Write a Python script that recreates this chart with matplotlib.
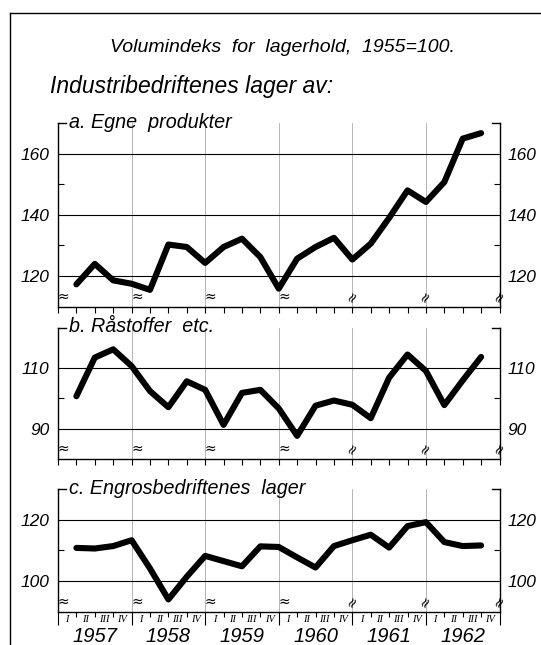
import matplotlib
matplotlib.use("Agg")
import matplotlib.pyplot as plt
from matplotlib.lines import Line2D

# kvartalstall, slutten av hvert kvartal 1957 I - 1962 III
egne = [117.3, 124.0, 118.6, 117.5, 115.5, 130.3, 129.5, 124.3, 129.5, 132.2, 126.2, 115.9,
        125.7, 129.5, 132.5, 125.4, 130.6, 139.0, 148.0, 144.2, 150.7, 164.9, 166.7]
rastoffer = [100.6, 113.3, 116.0, 110.5, 102.3, 97.0, 105.5, 102.7, 91.2, 101.7, 102.7, 96.6,
             87.6, 97.5, 99.2, 97.8, 93.4, 106.7, 114.3, 108.9, 97.7, 105.8, 113.5]
engros = [110.8, 110.6, 111.4, 113.3, 104.1, 94.0, 101.4, 108.2, 106.5, 104.8, 111.3, 111.1,
          107.7, 104.4, 111.4, 113.3, 115.1, 110.9, 117.9, 119.2, 112.7, 111.4, 111.6]

years = ['1957', '1958', '1959', '1960', '1961', '1962']
quarters = ['I', 'II', 'III', 'IV']

title = 'Volumindeks  for  lagerhold,  1955=100.'
subtitle = 'Industribedriftenes lager av:'
panel_titles = ['a. Egne  produkter', 'b. Råstoffer  etc.', 'c. Engrosbedriftenes  lager']
major_y = [[120, 140, 160], [90, 110], [100, 120]]
minor_y = [[130, 150], [100], [110]]
ylims = [(110, 170), (80, 123), (90, 130)]

plt.rcParams['font.family'] = ['Liberation Sans', 'DejaVu Sans']
plt.rcParams['font.style'] = 'italic'

W, H = 541, 645
fig = plt.figure(figsize=(W / 100, H / 100), dpi=100)

def fx(px):
    return px / W

def fy(py):
    return 1 - py / H

# ramme
fig.add_artist(Line2D([fx(10), 1.0], [fy(13), fy(13)], color='k', lw=1.0))
fig.add_artist(Line2D([fx(10), fx(10)], [fy(13), 0.0], color='k', lw=1.0))

fig.text(fx(282), fy(47), title, ha='center', va='center', fontsize=14)
fig.text(fx(50), fy(87), subtitle, ha='left', va='center', fontsize=16.5)

left, right = 58, 499.5
tops = [123, 328, 489]
bottoms = [306.7, 459, 611.7]
series = [egne, rastoffer, engros]

n = len(years) * 4
xs = list(range(1, len(egne) + 1))
year_bounds = list(range(0, n + 1, 4))
q_bounds = [q for q in range(n + 1) if q % 4 != 0]

for i in range(3):
    top, bot = tops[i], bottoms[i]
    ax = fig.add_axes([fx(left), fy(bot), fx(right) - fx(left), (bot - top) / H])
    ax.set_xlim(0, n)
    ax.set_ylim(*ylims[i])
    ax.plot(xs, series[i], color='k', lw=4.4, solid_joinstyle='round', solid_capstyle='round', zorder=5)

    ax.spines['top'].set_visible(False)
    for s in ['left', 'right', 'bottom']:
        ax.spines[s].set_linewidth(1.0)

    # hjørner oppe
    dx = 8 / (right - left)
    ax.plot([0, dx], [1, 1], color='k', lw=1.0, transform=ax.transAxes, clip_on=False)
    ax.plot([1 - dx, 1], [1, 1], color='k', lw=1.0, transform=ax.transAxes, clip_on=False)
    fig.text(fx(69), fy(top - 1), panel_titles[i], ha='left', va='center', fontsize=14.2)

    ax.set_yticks(major_y[i])
    ax.set_yticks(minor_y[i], minor=True)
    ax.tick_params(axis='y', which='major', length=0, pad=6, labelsize=12.5,
                   labelleft=True, labelright=True)
    ax.tick_params(axis='y', which='minor', direction='in', length=4.3, width=0.8,
                   left=True, right=True)
    ax.grid(axis='y', which='major', color='k', lw=0.8)

    ax.set_xticks(year_bounds)
    ax.set_xticks(q_bounds, minor=True)
    ax.grid(axis='x', which='major', color='#999999', lw=0.5)
    ax.tick_params(axis='x', which='both', direction='out', width=0.8, labelbottom=False)
    if i < 2:
        ax.tick_params(axis='x', which='both', length=4.5)
    else:
        ax.tick_params(axis='x', which='major', length=9.5)
        ax.tick_params(axis='x', which='minor', length=3.6)
        sec = ax.secondary_xaxis('bottom')
        sec.set_xticks([q + 0.5 for q in range(n)],
                       labels=[quarters[q % 4] for q in range(n)])
        sec.tick_params(length=0, pad=2.5, labelsize=7.5)
        for lab in sec.get_xticklabels():
            lab.set_family('Liberation Serif')
        sec.spines['bottom'].set_visible(False)
        sec2 = ax.secondary_xaxis('bottom')
        sec2.set_xticks([y * 4 + 2 for y in range(len(years))], labels=years)
        sec2.tick_params(length=0, pad=11, labelsize=14.5)
        sec2.spines['bottom'].set_visible(False)

    # bruddtegn
    for b in year_bounds:
        rot = 0 if b < 16 else 60
        ax.annotate('≈', (b, 0), xycoords=('data', 'axes fraction'),
                    xytext=(4 if rot == 0 else 0, 7), textcoords='offset points',
                    ha='center', va='center', fontsize=10, rotation=rot, family='DejaVu Sans')

fig.savefig('out.png', dpi=100)
